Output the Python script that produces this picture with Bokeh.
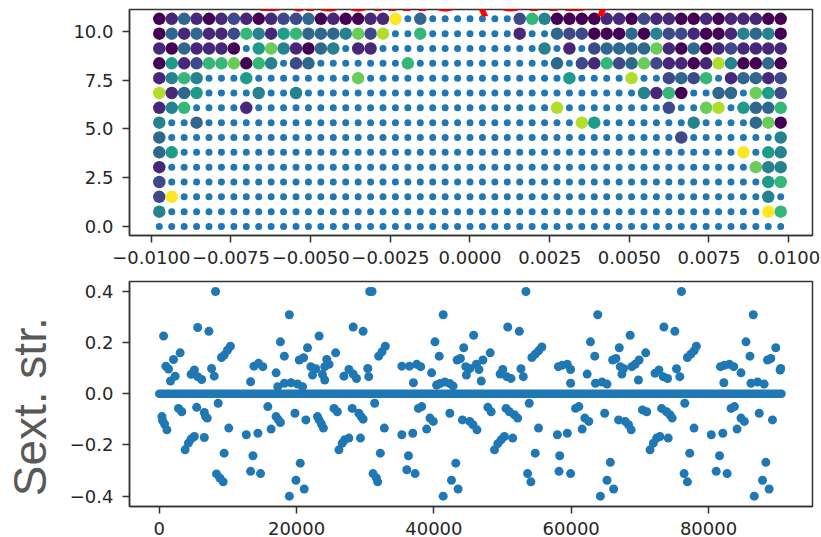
from bokeh.plotting import figure
from bokeh.layouts import column
from bokeh.models import Range1d, FixedTicker, Label, CustomJSTickFormatter
from bokeh.palettes import Viridis10
from bokeh.embed import file_html
from bokeh.resources import INLINE

# ---------------- top panel data : grid of initial conditions ----------------
grid_x = [-0.00975, -0.00936, -0.00897, -0.00858, -0.00819, -0.00780, -0.00741,
          -0.00702, -0.00663, -0.00624, -0.00585, -0.00546, -0.00507, -0.00468,
          -0.00429, -0.00390, -0.00351, -0.00312, -0.00273, -0.00234, -0.00195,
          -0.00156, -0.00117, -0.00078, -0.00039, 0.0, 0.00039, 0.00078, 0.00117,
          0.00156, 0.00195, 0.00234, 0.00273, 0.00312, 0.00351, 0.00390, 0.00429,
          0.00468, 0.00507, 0.00546, 0.00585, 0.00624, 0.00663, 0.00702, 0.00741,
          0.00780, 0.00819, 0.00858, 0.00897, 0.00936, 0.00975]
grid_y = [0.0, 0.761, 1.521, 2.282, 3.043, 3.804, 4.564, 5.325, 6.086, 6.846,
          7.607, 8.368, 9.128, 9.889, 10.65]

# colour level (0..9 of viridis) of each lost particle, top row first; '.' = none
level_rows = [
    "01310121012230100119" + "." + "3" + "." * 7 + "2640000110211001011100",
    "0313112641563334728" + ".." + "6" + "." * 7 + "1" + ".." + "3220003042210014340",
    "1031110.5741034.11" + "." * 13 + "4.1." + "2333371030121111",
    "0512667064.23" + "." * 7 + "6" + "." * 11 + "3.21623721101840030",
    "1464...5" + "." * 8 + "7" + "." * 16 + "5....8.." + "2326.13312",
    "8135....4..4" + "." * 27 + "4160..33.752",
    "146....1" + "." * 24 + "8" + "." * 8 + "2..78.5336",
    "4..3" + "." * 30 + "85" + "." * 7 + "4....370",
    "3" + "." * 41 + "2" + "." * 7 + "4",
    "35" + "." * 45 + "9.54",
    "1" + "." * 47 + "744",
    "2" + "." * 48 + "56",
    "29" + "." * 47 + "4.",
    "4" + "." * 48 + "96",
    "." * 51,
]

top_xticks = [-0.01, -0.0075, -0.005, -0.0025, 0.0, 0.0025, 0.005, 0.0075, 0.01]
top_xlabels = ["\u22120.0100", "\u22120.0075", "\u22120.0050", "\u22120.0025", "0.0000",
               "0.0025", "0.0050", "0.0075", "0.0100"]
top_yticks = [0.0, 2.5, 5.0, 7.5, 10.0]
top_ylabels = ["0.0", "2.5", "5.0", "7.5", "10.0"]
title_text = "Baseline (GHB)"

# ---------------- bottom panel data : sextupole strengths ----------------
band_s = [0, 90630]
band_v = [0.0, 0.0]

sext_s = [
    627, 964, 1350, 1639, 2073, 2314, 3037, 4627, 5109, 5591, 5591, 6170, 7230, 7616, 8001, 8194,
    9062, 9447, 9929, 10363, 13303, 13785, 14460, 15087, 17015, 17255, 17641, 18220, 18220, 18943,
    19184, 20148, 20389, 20871, 21015, 21594, 22076, 22317, 22799, 23281, 23763, 24100, 24100, 24389,
    24727, 25691, 26896, 27619, 28245, 28245, 28727, 29691, 30366, 30511, 30655, 30993, 31957, 32439,
    32921, 35331,
    386, 482, 771, 1109, 2796, 3278, 3760, 4242, 4627, 5109, 5447, 6555, 6748, 6989, 6555, 8580,
    8339, 8821, 9303, 9447, 10122, 12677, 14364, 13303, 14749, 13641, 15810, 16292, 17015, 17352,
    17641, 18943, 19762, 19907, 21112, 20533, 21353, 23040, 23281, 23618, 23907, 25450, 25932, 26173,
    26655, 26992, 27619, 28101, 29065, 29402, 29691, 29306, 31378, 31138, 31620, 31812, 32198, 32776,
    35331,
    36440, 37500, 38078, 37018, 39669, 40151, 40778, 41356, 40874, 41597, 42320, 40392, 42802, 43380,
    43862, 44344, 44634, 45212, 44730, 45790, 46176, 46562, 47140, 46899, 48200, 49646, 50032, 50610,
    51237, 50755, 52442, 52683, 53020, 53406, 54274, 54756, 55238, 55720, 58130, 58708, 59431, 59913,
    59913, 62323, 62805, 63432, 63866, 63528, 64492, 65215, 66034, 66516, 66998, 67143, 67625, 67384,
    68589, 68830, 69312, 69890, 69794, 70854, 72204, 72782, 73409, 74036, 73505, 75096, 75337, 75819,
    76060, 76928, 77410, 77892, 78229, 81748, 82326, 83049, 83676, 82230, 84736, 85459, 86037, 86519,
    86182, 87146, 88110, 88592, 89074, 89797, 90424, 90520,
    36054, 37259, 36295, 36922, 37741, 38223, 38946, 39428, 39910, 41356, 42320, 42561, 43525, 43188,
    44152, 45212, 45694, 46272, 47863, 48345, 48827, 49309, 49791, 50273, 50514, 50996, 51719, 52201,
    51478, 53888, 53647, 54129, 54756, 55238, 57985, 59431, 58323, 58226, 59913, 60636, 61118, 61600,
    61986, 62564, 64251, 64878, 65215, 66179, 65697, 66902, 67866, 68348, 68734, 70372, 70999, 71481,
    71963, 72445, 72927, 73168, 73891, 74373, 74710, 74132, 76542, 76446, 76928, 77265, 77892, 80398,
    82085, 81603, 81121, 82712, 83290, 83772, 84158, 84736, 85218, 86665, 87387, 87869, 88833, 88351,
    89315,
]
sext_v = [
    0.226, 0.108, 0.097, 0.050, 0.134, 0.069, 0.160, 0.076, 0.093, 0.067, 0.259, 0.056, 0.244, 0.099, 0.069, 0.400,
    0.142, 0.151, 0.170, 0.186, 0.047, 0.108, 0.119, 0.106, 0.082, 0.028, 0.203, 0.147, 0.041, 0.309,
    0.043, 0.038, 0.132, 0.028, 0.141, 0.180, 0.106, 0.073, 0.098, 0.226, 0.076, 0.106, 0.054, 0.134,
    0.115, 0.160, 0.069, 0.095, 0.077, 0.261, 0.060, 0.244, 0.099, 0.067, 0.400, 0.400, 0.147, 0.164,
    0.186, 0.108,
    -0.089, -0.105, -0.118, -0.141, -0.057, -0.070, -0.219, -0.193, -0.177, -0.167, -0.053, -0.073, -0.089, -0.095, -0.171, -0.037,
    -0.313, -0.329, -0.344, -0.232, -0.134, -0.160, -0.154, -0.303, -0.312, -0.242, -0.050, -0.138, -0.089, -0.102,
    -0.112, -0.400, -0.076, -0.338, -0.372, -0.271, -0.102, -0.089, -0.102, -0.118, -0.134, -0.057, -0.070, -0.219,
    -0.193, -0.180, -0.173, -0.057, -0.076, -0.089, -0.099, -0.173, -0.037, -0.312, -0.329, -0.344, -0.232, -0.134,
    -0.160,
    0.108, 0.115, 0.106, 0.043, 0.082, 0.203, 0.147, 0.309, 0.040, 0.046, 0.040, 0.034, 0.030, 0.132,
    0.138, 0.180, 0.106, 0.099, 0.073, 0.229, 0.115, 0.095, 0.132, 0.050, 0.160, 0.077, 0.095, 0.067,
    0.060, 0.261, 0.244, 0.098, 0.067, 0.400, 0.142, 0.155, 0.168, 0.183, 0.106, 0.112, 0.115, 0.095,
    0.041, 0.077, 0.203, 0.147, 0.309, 0.041, 0.046, 0.038, 0.132, 0.138, 0.180, 0.106, 0.099, 0.077,
    0.229, 0.106, 0.115, 0.132, 0.054, 0.160, 0.080, 0.093, 0.067, 0.060, 0.261, 0.244, 0.098, 0.067,
    0.400, 0.142, 0.155, 0.168, 0.186, 0.106, 0.112, 0.115, 0.106, 0.043, 0.082, 0.203, 0.147, 0.309,
    0.041, 0.046, 0.038, 0.132, 0.138, 0.180, 0.093, 0.099,
    -0.297, -0.312, -0.242, -0.154, -0.057, -0.050, -0.138, -0.095, -0.108, -0.400, -0.076, -0.338, -0.372, -0.271,
    -0.102, -0.108, -0.121, -0.141, -0.053, -0.070, -0.219, -0.195, -0.180, -0.167, -0.057, -0.070, -0.082, -0.095,
    -0.173, -0.037, -0.312, -0.344, -0.232, -0.134, -0.160, -0.154, -0.242, -0.303, -0.312, -0.057, -0.050, -0.138,
    -0.095, -0.108, -0.400, -0.076, -0.338, -0.372, -0.268, -0.102, -0.108, -0.121, -0.141, -0.063, -0.070, -0.219,
    -0.193, -0.173, -0.167, -0.057, -0.070, -0.082, -0.095, -0.173, -0.037, -0.312, -0.344, -0.232, -0.134, -0.160,
    -0.154, -0.242, -0.303, -0.312, -0.057, -0.050, -0.138, -0.095, -0.108, -0.400, -0.076, -0.338, -0.372, -0.268,
    -0.102,
]

bot_xticks = [0, 20000, 40000, 60000, 80000]
bot_xlabels = ["0", "20000", "40000", "60000", "80000"]
bot_yticks = [-0.4, -0.2, 0.0, 0.2, 0.4]
bot_ylabels = ["\u22120.4", "\u22120.2", "0.0", "0.2", "0.4"]
bot_ylabel = "Sext. str."

# ---------------- build ----------------
BLUE = "#1f77b4"
TICK_FONT = "DejaVu Sans"


def fmt(tv, tl):
    return CustomJSTickFormatter(args=dict(tvals=tv, tlabs=tl), code="""
        for (let i = 0; i < tvals.length; i++) {
            if (Math.abs(tvals[i] - tick) < 1e-9 * Math.max(1, Math.abs(tick))) { return tlabs[i]; }
        }
        return "";
    """)


def style(p, xt, xl, yt, yl, xstand):
    p.grid.visible = False
    p.outline_line_color = "#333333"
    p.outline_line_width = 1.5
    p.background_fill_color = "white"
    p.border_fill_color = "white"
    for ax in (p.xaxis[0], p.yaxis[0]):
        ax.axis_line_color = "#333333"
        ax.axis_line_width = 1.5
        ax.major_tick_line_color = "#333333"
        ax.major_tick_line_width = 1.5
        ax.major_tick_out = 7
        ax.major_tick_in = 0
        ax.minor_tick_line_color = None
        ax.major_label_text_font = TICK_FONT
        ax.major_label_text_font_size = "18px"
        ax.major_label_text_color = "#262626"
    p.xaxis[0].ticker = FixedTicker(ticks=xt)
    p.xaxis[0].formatter = fmt(xt, xl)
    p.xaxis[0].major_label_standoff = xstand
    p.yaxis[0].ticker = FixedTicker(ticks=yt)
    p.yaxis[0].formatter = fmt(yt, yl)
    p.yaxis[0].major_label_standoff = 9


p1 = figure(width=821, height=271, title=None, output_backend="svg", toolbar_location=None,
            x_range=Range1d(-0.010685, 0.010748), y_range=Range1d(-0.4615, 11.128),
            min_border_left=124, min_border_right=9, min_border_top=9, min_border_bottom=36)
style(p1, top_xticks, top_xlabels, top_yticks, top_ylabels, 8)

all_x, all_y = [], []
for gy in grid_y:
    for gx in grid_x:
        all_x.append(gx)
        all_y.append(gy)
p1.scatter(all_x, all_y, size=7, color=BLUE, line_color=None)

cx, cy, cc = [], [], []
for i, row in enumerate(level_rows):
    assert len(row) == len(grid_x), (i, len(row))
    yv = grid_y[len(level_rows) - 1 - i]
    for j, ch in enumerate(row):
        if ch != ".":
            cx.append(grid_x[j])
            cy.append(yv)
            cc.append(Viridis10[int(ch)])
p1.scatter(cx, cy, size=12.5, fill_color=cc, line_color=None)

p1.add_layout(Label(x=-0.001106, y=11.82, text=title_text, text_align="center",
                    text_baseline="middle", text_font="DejaVu Sans",
                    text_font_style="bold", text_font_size="42px", text_color="#ff0000"))

p2 = figure(width=821, height=266, title=None, output_backend="svg", toolbar_location=None,
            x_range=Range1d(-4338, 95147), y_range=Range1d(-0.4405, 0.4389),
            min_border_left=124, min_border_right=9, min_border_top=10, min_border_bottom=30)
style(p2, bot_xticks, bot_xlabels, bot_yticks, bot_ylabels, 8)
p2.xaxis[0].major_label_text_line_height = 0.8

p2.yaxis[0].axis_label = bot_ylabel + "\u00a0\u00a0"
p2.yaxis[0].axis_label_text_font = "Liberation Sans"
p2.yaxis[0].axis_label_text_font_size = "46px"
p2.yaxis[0].axis_label_text_font_style = "normal"
p2.yaxis[0].axis_label_text_color = "#595959"
p2.yaxis[0].axis_label_standoff = 11

p2.line(band_s, band_v, line_width=8.5, line_color=BLUE, line_cap="round")
p2.scatter(sext_s, sext_v, size=9, color=BLUE, line_color=None)

layout = column(p1, p2)

open("out.html", "w").write(file_html(layout, INLINE))
